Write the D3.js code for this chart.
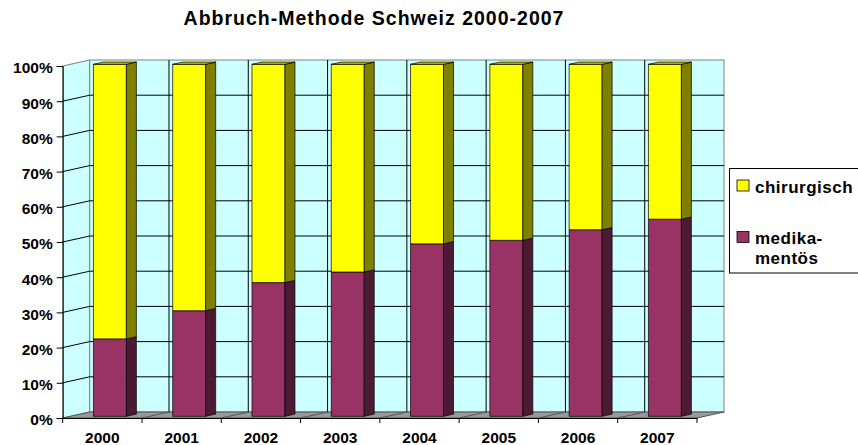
<!DOCTYPE html>
<html>
<head>
<meta charset="utf-8">
<title>Abbruch-Methode Schweiz 2000-2007</title>
<script src="https://cdn.jsdelivr.net/npm/d3@7/dist/d3.min.js"></script>
<style>
	body { margin: 0; background: #fff; }
	svg { display: block; font-family: Arial, 'Liberation Sans', sans-serif; font-weight: bold; }
</style>
</head>
<body>
<div class="vis"></div>
<script>
'use strict';

// data (percent of all abortions)
var years = ['2000', '2001', '2002', '2003', '2004', '2005', '2006', '2007'];
var medikamentoes = [22, 30, 38, 41, 49, 50, 53, 56];
var chirurgisch = [78, 70, 62, 59, 51, 50, 47, 44];
var yTicks = [0, 10, 20, 30, 40, 50, 60, 70, 80, 90, 100];
var seriesKeys = ['medikamentoes', 'chirurgisch'];
var seriesNames = ['medika-\nmentös', 'chirurgisch'];

(function ( window, document, undefined ) {

	var width = 858;
	var height = 445;

	// 3d depth of the plot box (pixels from front to back)
	var depthX = 27;
	var depthY = -6;
	// bar sits between these fractions of the depth
	var barFront = 0.28;
	var barBack = 0.65;
	var barFraction = 0.416;

	var wallColor = '#ccffff';
	var wallStroke = '#808080';
	var floorColor = '#999999';

	var faces = {
		medikamentoes: { front: '#993366', side: '#4d1a33', top: '#7a2952' },
		chirurgisch: { front: '#ffff00', side: '#808000', top: '#c8c800' }
	};

	var table = years.map(function(year, i) {
		return { year: year, medikamentoes: medikamentoes[i], chirurgisch: chirurgisch[i] };
	});

	var stack = d3.stack().keys( seriesKeys )( table );

	// scales
	var x = d3.scaleBand()
		.domain( years )
		.range( [62.7, 697] );

	var y = d3.scaleLinear()
		.domain( [0, 100] )
		.range( [418, 66] );

	var svg = d3.select('.vis')
		.append('svg')
			.attr('width', width)
			.attr('height', height);

	/**
	 * Projects a front-plane point back into the depth of the box.
	 */
	function project( px, py, d ) {
		return [px + d * depthX, py + d * depthY];
	}

	function pts( list ) {
		return list.map(function(p) { return p.join(','); }).join(' ');
	}

	// title
	svg.append('text')
		.attr('x', 374)
		.attr('y', 25)
		.attr('text-anchor', 'middle')
		.style('font-size', '19.5px')
		.style('letter-spacing', '1px')
		.text('Abbruch-Methode Schweiz 2000-2007');

	var x0 = x.range()[0];
	var x1 = x.range()[1];
	var yBottom = y(0);
	var yTop = y(100);

	// side wall
	svg.append('polygon')
		.attr('points', pts( [[x0, yBottom], [x0, yTop], project( x0, yTop, 1 ), project( x0, yBottom, 1 )] ))
		.attr('fill', wallColor)
		.attr('stroke', wallStroke);

	// back wall
	var back0 = project( x0, yTop, 1 );
	var back1 = project( x1, yBottom, 1 );
	svg.append('rect')
		.attr('x', back0[0])
		.attr('y', back0[1])
		.attr('width', back1[0] - back0[0])
		.attr('height', back1[1] - back0[1])
		.attr('fill', wallColor)
		.attr('stroke', wallStroke);

	// floor
	svg.append('polygon')
		.attr('points', pts( [[x0, yBottom], [x1, yBottom], project( x1, yBottom, 1 ), project( x0, yBottom, 1 )] ))
		.attr('fill', floorColor)
		.attr('stroke', '#555');

	var grid = svg.append('g')
		.attr('stroke', '#000')
		.attr('stroke-width', 1);

	// horizontal gridlines on side and back wall
	yTicks.filter(function(t) { return t > 0 && t < 100; }).forEach(function(t) {
		var a = project( x0, y(t), 1 );
		var b = project( x1, y(t), 1 );
		grid.append('line')
			.attr('x1', x0).attr('y1', y(t))
			.attr('x2', a[0]).attr('y2', a[1]);
		grid.append('line')
			.attr('x1', a[0]).attr('y1', a[1])
			.attr('x2', b[0]).attr('y2', b[1]);
	});

	// category boundaries: back wall verticals and floor lines
	var boundaries = years.slice(1).map(function(year) { return x(year); });
	boundaries.forEach(function(bx) {
		var top = project( bx, yTop, 1 );
		var bottom = project( bx, yBottom, 1 );
		grid.append('line')
			.attr('x1', top[0]).attr('y1', top[1])
			.attr('x2', bottom[0]).attr('y2', bottom[1]);
		svg.append('line')
			.attr('x1', bx).attr('y1', yBottom)
			.attr('x2', bottom[0]).attr('y2', bottom[1])
			.attr('stroke', '#555');
	});

	// bars
	var barWidth = x.bandwidth() * barFraction;
	var span = barBack - barFront;

	stack.forEach(function(layer, li) {
		var colors = faces[ layer.key ];
		var isTop = li === stack.length - 1;

		var bars = svg.append('g')
			.attr('class', 'layer-' + layer.key)
			.attr('stroke', '#000')
			.attr('stroke-width', 0.7)
			.attr('stroke-linejoin', 'round')
			.selectAll('g')
			.data( layer )
			.join('g');

		bars.each(function(d) {
			var g = d3.select( this );
			var left = x( d.data.year ) + (x.bandwidth() - barWidth) / 2;
			var fl = project( left, y(d[1]), barFront );
			var fr = [fl[0] + barWidth, fl[1]];
			var bottomY = y(d[0]) + barFront * depthY;

			// front face
			g.append('rect')
				.attr('x', fl[0])
				.attr('y', fl[1])
				.attr('width', barWidth)
				.attr('height', bottomY - fl[1])
				.attr('fill', colors.front);

			// right side face
			g.append('polygon')
				.attr('points', pts( [fr, project( fr[0], fr[1], span ), project( fr[0], bottomY, span ), [fr[0], bottomY]] ))
				.attr('fill', colors.side);

			// top face
			if ( isTop ) {
				g.append('polygon')
					.attr('points', pts( [fl, fr, project( fr[0], fr[1], span ), project( fl[0], fl[1], span )] ))
					.attr('fill', colors.top);
			}
		});
	});

	// y axis
	var yAxis = svg.append('g')
		.attr('transform', 'translate(' + x0 + ',0)')
		.call( d3.axisLeft( y ).tickValues( yTicks ).tickFormat(function(d) { return d + '%'; }).tickSize( 6 ).tickPadding( 4 ) );

	yAxis.select('.domain').attr('stroke', '#000');
	yAxis.selectAll('.tick line').attr('stroke', '#000');
	yAxis.selectAll('.tick text')
		.attr('dy', '0.45em')
		.attr('fill', '#000')
		.style('font-size', '15.5px')
		.style('font-family', 'Arial, "Liberation Sans", sans-serif')
		.style('font-weight', 'bold');

	// x axis: labels at category centres, ticks at boundaries
	var xAxis = svg.append('g')
		.attr('transform', 'translate(0,' + yBottom + ')')
		.call( d3.axisBottom( x ).tickSize( 0 ).tickPadding( 13.5 ) );

	xAxis.select('.domain').attr('stroke', '#000');
	xAxis.selectAll('.tick text')
		.attr('fill', '#000')
		.style('font-size', '15.5px')
		.style('font-family', 'Arial, "Liberation Sans", sans-serif')
		.style('font-weight', 'bold');

	xAxis.selectAll('.bound')
		.data( [x0].concat( boundaries ).concat( [x1] ) )
		.join('line')
			.attr('class', 'bound')
			.attr('x1', function(d) { return d; })
			.attr('x2', function(d) { return d; })
			.attr('y1', 0)
			.attr('y2', 5)
			.attr('stroke', '#000');

	// legend
	var legend = svg.append('g')
		.attr('class', 'legend');

	legend.append('rect')
		.attr('x', 729.5)
		.attr('y', 168.5)
		.attr('width', 140)
		.attr('height', 104.5)
		.attr('fill', '#fff')
		.attr('stroke', '#000');

	var items = legend.selectAll('g.item')
		.data( seriesKeys.slice().reverse() )
		.join('g')
			.attr('class', 'item')
			.attr('transform', function(d, i) { return 'translate(737,' + (180 + i * 51.5) + ')'; });

	items.append('rect')
		.attr('width', 12)
		.attr('height', 11)
		.attr('fill', function(d) { return faces[d].front; })
		.attr('stroke', '#000')
		.attr('stroke-width', 0.8);

	items.append('text')
		.attr('x', 18)
		.attr('y', 12.5)
		.style('font-size', '17px')
		.style('letter-spacing', '0.5px')
		.each(function(d) {
			var lines = seriesNames[ seriesKeys.indexOf( d ) ].split('\n');
			d3.select( this ).selectAll('tspan')
				.data( lines )
				.join('tspan')
					.attr('x', 18)
					.attr('dy', function(l, i) { return i === 0 ? 0 : 20; })
					.text(function(l) { return l; });
		});

})( this, document );
</script>
</body>
</html>
